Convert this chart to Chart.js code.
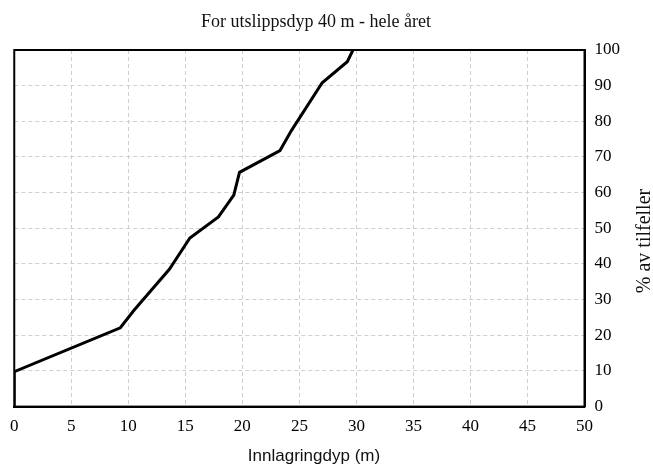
<!DOCTYPE html>
<html>
<head>
<meta charset="utf-8">
<script src="https://cdn.jsdelivr.net/npm/chart.js@4"></script>
<style>
html,body{margin:0;padding:0;background:#fff;}
#wrap{width:653px;height:467px;position:relative;}
</style>
</head>
<body>
<div id="wrap"><canvas id="c" width="653" height="467"></canvas></div>
<script>
const chartTitle = "For utslippsdyp 40 m - hele året";
const xTitle = "Innlagringdyp (m)";
const yTitle = "% av tilfeller";
const depth = [0, 0, 9.3, 10.5, 13.6, 15.4, 17.9, 19.25, 19.75, 23.3, 24.3, 27.0, 29.2, 29.7];
const percent = [0, 9.8, 22.1, 27, 38.5, 47.3, 53.2, 59.3, 65.7, 71.8, 77.4, 90.8, 96.7, 100];
const xTicks = [0, 5, 10, 15, 20, 25, 30, 35, 40, 45, 50];
const yTicks = [0, 10, 20, 30, 40, 50, 60, 70, 80, 90, 100];

const points = depth.map((d, i) => ({ x: d, y: percent[i] }));

const textPlugin = {
  id: 'texts',
  afterDraw(chart) {
    const ctx = chart.ctx;
    const a = chart.chartArea;
    ctx.save();
    // frame
    ctx.strokeStyle = '#000';
    ctx.lineWidth = 2;
    ctx.strokeRect(a.left, a.top, a.right - a.left, a.bottom - a.top);
    ctx.fillStyle = '#111';
    // title
    ctx.font = '18px "Liberation Serif", "Times New Roman", serif';
    ctx.textAlign = 'center';
    ctx.textBaseline = 'middle';
    ctx.fillText(chartTitle, 316, 22);
    // x title
    ctx.font = '17px "Liberation Sans", Arial, sans-serif';
    ctx.fillText(xTitle, 314, 456);
    // y title (reads bottom to top)
    ctx.translate(645, 241);
    ctx.rotate(-Math.PI / 2);
    ctx.font = '20px "Liberation Serif", "Times New Roman", serif';
    ctx.fillText(yTitle, 0, 0);
    ctx.restore();
  }
};

new Chart(document.getElementById('c'), {
  type: 'scatter',
  data: {
    datasets: [{
      data: points,
      showLine: true,
      borderColor: '#000',
      borderWidth: 3,
      pointRadius: 0,
      fill: false,
      tension: 0
    }]
  },
  options: {
    responsive: false,
    animation: false,
    layout: { padding: { top: 50, left: 13.5, right: 23, bottom: 20 } },
    plugins: { legend: { display: false }, tooltip: { enabled: false } },
    scales: {
      x: {
        type: 'linear',
        min: 0, max: 50,
        afterBuildTicks(scale) { scale.ticks = xTicks.map(v => ({ value: v })); },
        ticks: {
          color: '#000',
          padding: 10,
          font: { family: '"Liberation Serif", "Times New Roman", serif', size: 17 }
        },
        grid: {
          color: '#cfcfcf',
          lineWidth: 1,
          drawTicks: false
        },
        border: { display: true, color: '#000', width: 2, dash: [4, 3] }
      },
      y: {
        type: 'linear',
        position: 'right',
        min: 0, max: 100,
        afterBuildTicks(scale) { scale.ticks = yTicks.map(v => ({ value: v })); },
        ticks: {
          color: '#000',
          padding: 10,
          font: { family: '"Liberation Serif", "Times New Roman", serif', size: 17 }
        },
        grid: {
          color: '#cfcfcf',
          lineWidth: 1,
          drawTicks: false
        },
        border: { display: true, color: '#000', width: 2, dash: [4, 3] }
      }
    }
  },
  plugins: [textPlugin]
});
</script>
</body>
</html>
